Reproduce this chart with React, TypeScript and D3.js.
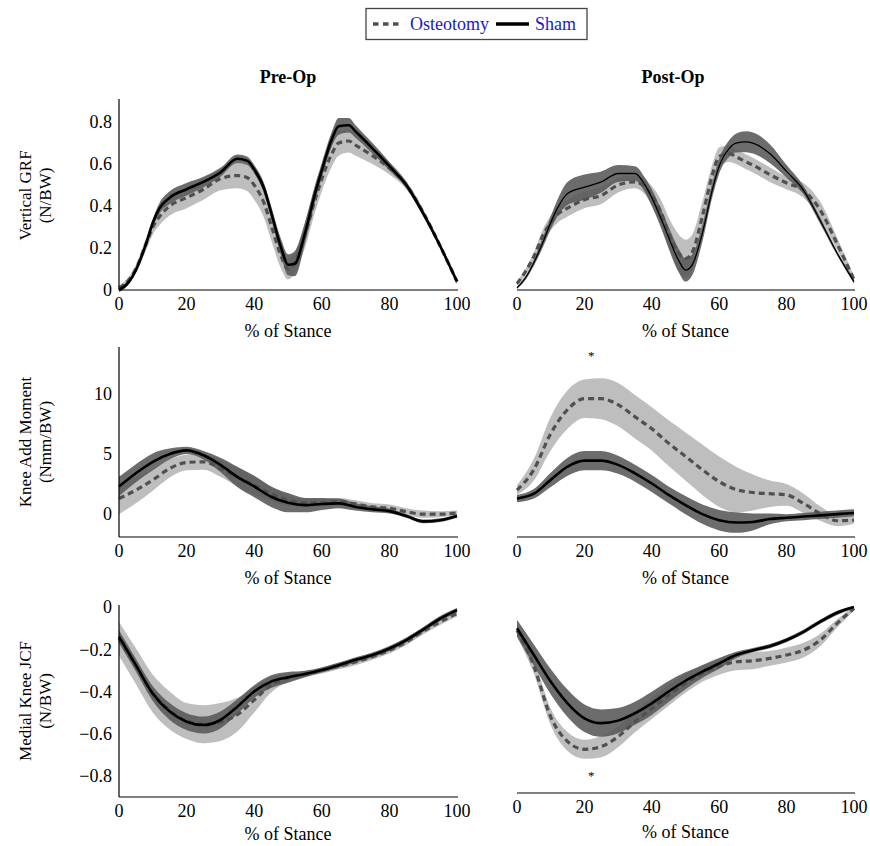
import React from "react";
import * as d3 from "d3";

// % of stance grids
const stanceFine = [0, 3, 5, 8, 10, 12, 15, 20, 25, 30, 35, 38, 40, 43, 45, 48, 50, 52, 55, 58, 60, 63, 65, 68, 70, 75, 80, 85, 90, 95, 100];
const stance = [0, 5, 10, 15, 20, 25, 30, 35, 40, 45, 50, 55, 60, 65, 70, 75, 80, 85, 90, 95, 100];

// Vertical GRF (N/BW), pre-op
const grfPreOst = [0.01, 0.05, 0.1, 0.22, 0.3, 0.35, 0.4, 0.44, 0.48, 0.53, 0.545, 0.535, 0.5, 0.41, 0.31, 0.16, 0.1, 0.13, 0.26, 0.43, 0.53, 0.65, 0.7, 0.71, 0.69, 0.64, 0.58, 0.5, 0.37, 0.21, 0.04];
const grfPreOstSd = [0.01, 0.015, 0.02, 0.03, 0.035, 0.04, 0.045, 0.05, 0.05, 0.055, 0.06, 0.065, 0.07, 0.07, 0.07, 0.06, 0.05, 0.05, 0.06, 0.06, 0.06, 0.06, 0.06, 0.055, 0.05, 0.04, 0.03, 0.02, 0.015, 0.01, 0.01];
const grfPreSham = [0.0, 0.04, 0.095, 0.22, 0.32, 0.39, 0.44, 0.48, 0.515, 0.56, 0.625, 0.615, 0.575, 0.48, 0.37, 0.2, 0.12, 0.125, 0.27, 0.46, 0.57, 0.72, 0.78, 0.785, 0.755, 0.675, 0.59, 0.5, 0.365, 0.21, 0.04];
const grfPreShamSd = [0.01, 0.01, 0.01, 0.015, 0.02, 0.025, 0.03, 0.03, 0.025, 0.02, 0.02, 0.02, 0.02, 0.025, 0.03, 0.04, 0.05, 0.06, 0.05, 0.04, 0.035, 0.035, 0.04, 0.035, 0.03, 0.025, 0.02, 0.015, 0.015, 0.01, 0.01];

// Vertical GRF (N/BW), post-op
const grfPostOst = [0.03, 0.1, 0.16, 0.27, 0.32, 0.36, 0.39, 0.43, 0.45, 0.5, 0.515, 0.49, 0.45, 0.36, 0.27, 0.175, 0.15, 0.18, 0.35, 0.55, 0.635, 0.65, 0.635, 0.61, 0.595, 0.55, 0.51, 0.475, 0.38, 0.22, 0.05];
const grfPostOstSd = [0.01, 0.015, 0.02, 0.03, 0.035, 0.04, 0.04, 0.04, 0.04, 0.035, 0.03, 0.035, 0.045, 0.06, 0.075, 0.09, 0.09, 0.085, 0.07, 0.05, 0.045, 0.04, 0.035, 0.035, 0.035, 0.035, 0.03, 0.035, 0.04, 0.03, 0.015];
const grfPostSham = [0.01, 0.07, 0.13, 0.24, 0.32, 0.39, 0.46, 0.49, 0.515, 0.555, 0.555, 0.5, 0.44, 0.33, 0.25, 0.14, 0.095, 0.12, 0.27, 0.48, 0.59, 0.675, 0.7, 0.706, 0.7, 0.65, 0.565, 0.476, 0.33, 0.175, 0.04];
const grfPostShamSd = [0.005, 0.01, 0.015, 0.025, 0.03, 0.04, 0.055, 0.06, 0.05, 0.04, 0.035, 0.035, 0.04, 0.045, 0.05, 0.055, 0.055, 0.05, 0.04, 0.035, 0.035, 0.04, 0.045, 0.05, 0.05, 0.045, 0.03, 0.02, 0.015, 0.01, 0.01];

// Knee adduction moment (Nmm/BW)
const kamPreOst = [1.3, 2.0, 2.85, 3.8, 4.3, 4.35, 3.8, 3.1, 2.4, 1.7, 1.15, 0.95, 0.95, 1.05, 0.85, 0.6, 0.5, 0.2, 0.0, 0.0, 0.1];
const kamPreOstSd = [1.3, 1.1, 0.9, 0.75, 0.65, 0.65, 0.7, 0.8, 0.8, 0.6, 0.45, 0.35, 0.3, 0.3, 0.3, 0.3, 0.3, 0.3, 0.3, 0.25, 0.2];
const kamPreSham = [2.3, 3.4, 4.35, 5.0, 5.3, 4.9, 4.1, 3.1, 2.3, 1.45, 0.95, 0.75, 0.85, 0.9, 0.6, 0.4, 0.25, -0.15, -0.6, -0.5, -0.15];
const kamPreShamSd = [0.8, 0.75, 0.7, 0.45, 0.3, 0.35, 0.6, 0.85, 0.9, 0.85, 0.8, 0.6, 0.5, 0.4, 0.3, 0.25, 0.2, 0.15, 0.15, 0.15, 0.15];
const kamPostOst = [2.0, 3.7, 6.7, 8.7, 9.6, 9.6, 9.1, 8.1, 7.1, 5.9, 4.8, 3.7, 2.7, 2.05, 1.8, 1.7, 1.6, 0.9, 0.05, -0.55, -0.5];
const kamPostOstSd = [0.4, 0.9, 1.4, 1.6, 1.6, 1.7, 1.8, 1.8, 1.8, 1.9, 2.0, 2.1, 2.1, 1.9, 1.5, 1.1, 0.9, 0.8, 0.6, 0.45, 0.3];
const kamPostSham = [1.3, 1.7, 2.85, 3.95, 4.45, 4.45, 4.1, 3.4, 2.55, 1.6, 0.75, 0.0, -0.5, -0.7, -0.65, -0.4, -0.3, -0.2, -0.1, 0.0, 0.1];
const kamPostShamSd = [0.3, 0.4, 0.6, 0.75, 0.8, 0.8, 0.75, 0.7, 0.7, 0.7, 0.75, 0.8, 0.85, 0.85, 0.7, 0.45, 0.3, 0.3, 0.3, 0.3, 0.3];

// Medial knee joint contact force (N/BW)
const jcfPreOst = [-0.15, -0.28, -0.41, -0.49, -0.54, -0.555, -0.545, -0.51, -0.44, -0.37, -0.335, -0.318, -0.3, -0.28, -0.26, -0.235, -0.205, -0.165, -0.115, -0.07, -0.03];
const jcfPreOstSd = [0.08, 0.085, 0.09, 0.09, 0.085, 0.09, 0.09, 0.08, 0.06, 0.035, 0.02, 0.015, 0.015, 0.015, 0.015, 0.015, 0.015, 0.015, 0.015, 0.015, 0.015];
const jcfPreSham = [-0.14, -0.275, -0.41, -0.495, -0.543, -0.559, -0.535, -0.472, -0.4, -0.353, -0.333, -0.317, -0.298, -0.275, -0.25, -0.227, -0.196, -0.156, -0.106, -0.054, -0.014];
const jcfPreShamSd = [0.03, 0.03, 0.035, 0.04, 0.04, 0.04, 0.04, 0.035, 0.03, 0.03, 0.025, 0.015, 0.012, 0.012, 0.012, 0.012, 0.012, 0.012, 0.012, 0.012, 0.01];
const jcfPostOst = [-0.11, -0.28, -0.52, -0.637, -0.674, -0.661, -0.614, -0.543, -0.48, -0.417, -0.361, -0.314, -0.28, -0.259, -0.254, -0.243, -0.227, -0.204, -0.156, -0.077, -0.006];
const jcfPostOstSd = [0.03, 0.035, 0.04, 0.045, 0.045, 0.05, 0.05, 0.05, 0.05, 0.05, 0.045, 0.04, 0.04, 0.04, 0.04, 0.035, 0.035, 0.035, 0.03, 0.02, 0.01];
const jcfPostSham = [-0.1, -0.227, -0.353, -0.456, -0.527, -0.55, -0.538, -0.503, -0.456, -0.4, -0.349, -0.306, -0.267, -0.227, -0.204, -0.185, -0.156, -0.117, -0.069, -0.027, 0.0];
const jcfPostShamSd = [0.04, 0.05, 0.06, 0.065, 0.065, 0.065, 0.06, 0.055, 0.055, 0.05, 0.04, 0.03, 0.025, 0.015, 0.01, 0.01, 0.01, 0.01, 0.01, 0.01, 0.005];

const xTicks = [0, 20, 40, 60, 80, 100];
const grfTicks = [0, 0.2, 0.4, 0.6, 0.8];
const kamTicks = [0, 5, 10];
const jcfTicks = [0, -0.2, -0.4, -0.6, -0.8];
const columnTitles = ["Pre-Op", "Post-Op"];
const legendLabels = ["Osteotomy", "Sham"];

const FONT = "'Liberation Serif', 'Times New Roman', serif";
const LIGHT = "#bebebe";
const DARK = "#585858";
const DASH = "#505050";

const cols = [
  { x0: 119, x1: 457 },
  { x0: 517, x1: 854 },
];

const rows = [
  { label: ["Vertical GRF", "(N/BW)"], top: 99, bottom: 290, domain: [0, 0.91], ticks: grfTicks, titleGap: 41, fmt: (d: number) => (d === 0 ? "0" : d3.format(".1f")(d)) },
  { label: ["Knee Add Moment", "(Nmm/BW)"], top: 347, bottom: 537, domain: [-1.9, 13.9], ticks: kamTicks, titleGap: 41, fmt: (d: number) => String(d) },
  { label: ["Medial Knee JCF", "(N/BW)"], top: 605, bottom: 797, domain: [-0.9, 0.01], ticks: jcfTicks, titleGap: 37, fmt: (d: number) => (d === 0 ? "0" : d3.format(".1f")(d)) },
];

type Panel = {
  row: number;
  col: number;
  xs: number[];
  ost: number[];
  ostSd: number[];
  sham: number[];
  shamSd: number[];
  shamWidth: number;
  bottom?: number;
  domain?: number[];
  star?: { x: number; y: number };
};

const panels: Panel[] = [
  { row: 0, col: 0, xs: stanceFine, ost: grfPreOst, ostSd: grfPreOstSd, sham: grfPreSham, shamSd: grfPreShamSd, shamWidth: 2.6 },
  { row: 0, col: 1, xs: stanceFine, ost: grfPostOst, ostSd: grfPostOstSd, sham: grfPostSham, shamSd: grfPostShamSd, shamWidth: 1.3 },
  { row: 1, col: 0, xs: stance, ost: kamPreOst, ostSd: kamPreOstSd, sham: kamPreSham, shamSd: kamPreShamSd, shamWidth: 2.6 },
  { row: 1, col: 1, xs: stance, ost: kamPostOst, ostSd: kamPostOstSd, sham: kamPostSham, shamSd: kamPostShamSd, shamWidth: 2.6, star: { x: 22, y: 13.2 } },
  { row: 2, col: 0, xs: stance, ost: jcfPreOst, ostSd: jcfPreOstSd, sham: jcfPreSham, shamSd: jcfPreShamSd, shamWidth: 2.6 },
  { row: 2, col: 1, xs: stance, ost: jcfPostOst, ostSd: jcfPostOstSd, sham: jcfPostSham, shamSd: jcfPostShamSd, shamWidth: 2.6, bottom: 793, domain: [-0.881, 0.01], star: { x: 22, y: -0.8 } },
];

function PanelView({ p }: { p: Panel }) {
  const r = rows[p.row];
  const c = cols[p.col];
  const bottom = p.bottom ?? r.bottom;
  const x = d3.scaleLinear().domain([0, 100]).range([c.x0, c.x1]);
  const y = d3.scaleLinear().domain(p.domain ?? r.domain).range([bottom, r.top]);
  const curve = d3.curveMonotoneX;
  const band = (m: number[], s: number[]) =>
    d3.area<number>().x((_, i) => x(p.xs[i])).y0((_, i) => y(m[i] - s[i])).y1((_, i) => y(m[i] + s[i])).curve(curve)(m) || "";
  const line = (m: number[]) => d3.line<number>().x((_, i) => x(p.xs[i])).y((d) => y(d)).curve(curve)(m) || "";
  return (
    <g>
      <path d={band(p.ost, p.ostSd)} fill={LIGHT} />
      <path d={band(p.sham, p.shamSd)} fill={DARK} fillOpacity={0.88} />
      <path d={line(p.ost)} fill="none" stroke={DASH} strokeWidth={3.2} strokeDasharray="6 4" />
      <path d={line(p.sham)} fill="none" stroke="#000" strokeWidth={p.shamWidth} />
      <line x1={c.x0} x2={c.x1 + 1} y1={bottom} y2={bottom} stroke="#000" strokeWidth={1.2} />
      {p.col === 0 && <line x1={c.x0} x2={c.x0} y1={r.top} y2={bottom} stroke="#000" strokeWidth={1.2} />}
      {p.col === 0 &&
        r.ticks.map((t) => (
          <text key={t} x={c.x0 - 7} y={y(t)} dy="0.35em" textAnchor="end" fontSize={18}>
            {r.fmt(t)}
          </text>
        ))}
      {xTicks.map((t) => (
        <text key={t} x={x(t)} y={bottom + 14} dy="0.35em" textAnchor="middle" fontSize={18}>
          {t}
        </text>
      ))}
      <text x={(c.x0 + c.x1) / 2} y={bottom + r.titleGap + (p.bottom ? 2 : 0)} dy="0.35em" textAnchor="middle" fontSize={18}>
        % of Stance
      </text>
      {p.star && (
        <text x={x(p.star.x)} y={y(p.star.y)} dy="0.35em" textAnchor="middle" fontSize={13}>
          *
        </text>
      )}
    </g>
  );
}

export default function App() {
  return (
    <svg width={870} height={846} style={{ display: "block", position: "absolute", left: 0, top: 0, background: "#fff" }} fontFamily={FONT}>
      {/* legend */}
      <rect x={366} y={8.5} width={221} height={31} fill="#fff" stroke="#444" strokeWidth={1.3} />
      <line x1={373} x2={402} y1={24} y2={24} stroke={DASH} strokeWidth={3.4} strokeDasharray="5.5 4.5" />
      <text x={410} y={24} dy="0.35em" fontSize={18} fill="#1a1acc">{legendLabels[0]}</text>
      <line x1={496} x2={529} y1={24} y2={24} stroke="#000" strokeWidth={3.4} />
      <text x={535} y={24} dy="0.35em" fontSize={18} fill="#1a1acc">{legendLabels[1]}</text>

      {/* column titles */}
      <text x={288} y={77} dy="0.35em" textAnchor="middle" fontSize={18} fontWeight="bold">{columnTitles[0]}</text>
      <text x={673} y={77} dy="0.35em" textAnchor="middle" fontSize={18} fontWeight="bold">{columnTitles[1]}</text>

      {/* row labels */}
      {rows.map((r, i) => {
        const cy = (r.top + r.bottom) / 2 + [1, 0, 0][i];
        return (
          <g key={i} fontSize={17}>
            <text transform={`translate(31,${cy}) rotate(-90)`} textAnchor="middle">{r.label[0]}</text>
            <text transform={`translate(51,${cy}) rotate(-90)`} textAnchor="middle">{r.label[1]}</text>
          </g>
        );
      })}

      {panels.map((p, i) => (
        <PanelView key={i} p={p} />
      ))}
    </svg>
  );
}
